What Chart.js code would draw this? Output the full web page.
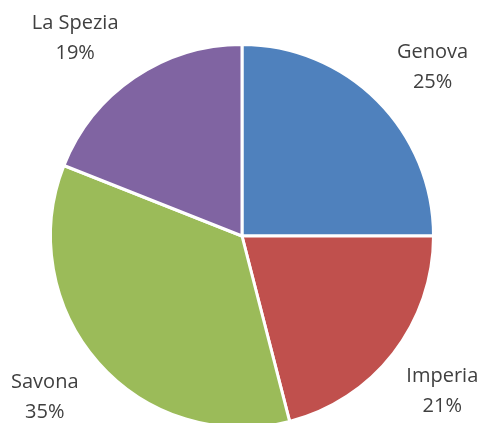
<!DOCTYPE html>
<html>
<head>
<meta charset="utf-8">
<script src="https://cdn.jsdelivr.net/npm/chart.js@4/dist/chart.umd.min.js"></script>
<style>
  html, body { margin: 0; padding: 0; background: #fff; overflow: hidden; height: 423px; }
  #wrap { width: 486px; height: 440px; }
</style>
</head>
<body>
<div id="wrap"><canvas id="pieChart"></canvas></div>
<script>
const provinces = ['Genova', 'Imperia', 'Savona', 'La Spezia'];
const shares = [25, 21, 35, 19];
const sliceColors = ['#4F81BD', '#C0504D', '#9BBB59', '#8064A2'];

// label placement tweaks (degrees turned, extra px out from the rim)
const labelTurn = [3.5, 0, 2.2, -6];
const labelGap = [63, 62, 63, 67];

// draws "name / pct" outside each slice
const outsideLabels = {
    id: 'outsideLabels',
    afterDraw(chart) {
        const ctx = chart.ctx;
        const meta = chart.getDatasetMeta(0);
        ctx.save();
        ctx.font = '20px "Open Sans"';
        ctx.fillStyle = '#404040';
        ctx.textAlign = 'center';
        ctx.textBaseline = 'middle';
        meta.data.forEach((arc, i) => {
            const p = arc.getProps(['x', 'y', 'startAngle', 'endAngle', 'outerRadius'], true);
            const mid = (p.startAngle + p.endAngle) / 2 + labelTurn[i] * Math.PI / 180;
            const r = p.outerRadius + labelGap[i];
            const cx = p.x + Math.cos(mid) * r;
            const cy = p.y + Math.sin(mid) * r;
            ctx.fillText(provinces[i], cx, cy - 15);
            ctx.fillText(shares[i] + '%', cx, cy + 15);
        });
        ctx.restore();
    }
};

document.addEventListener("DOMContentLoaded", () => {
    const ctx = document.getElementById('pieChart').getContext('2d');
    new Chart(ctx, {
        type: 'pie',
        data: {
            labels: provinces,
            datasets: [{
                data: shares,
                backgroundColor: sliceColors,
                borderColor: '#ffffff',
                borderWidth: 3
            }]
        },
        options: {
            responsive: true,
            maintainAspectRatio: false,
            animation: false,
            layout: { padding: { left: 49, right: 51, top: 43, bottom: 11 } },
            plugins: {
                legend: { display: false },
                tooltip: { enabled: false }
            }
        },
        plugins: [outsideLabels]
    });
});
</script>
</body>
</html>
